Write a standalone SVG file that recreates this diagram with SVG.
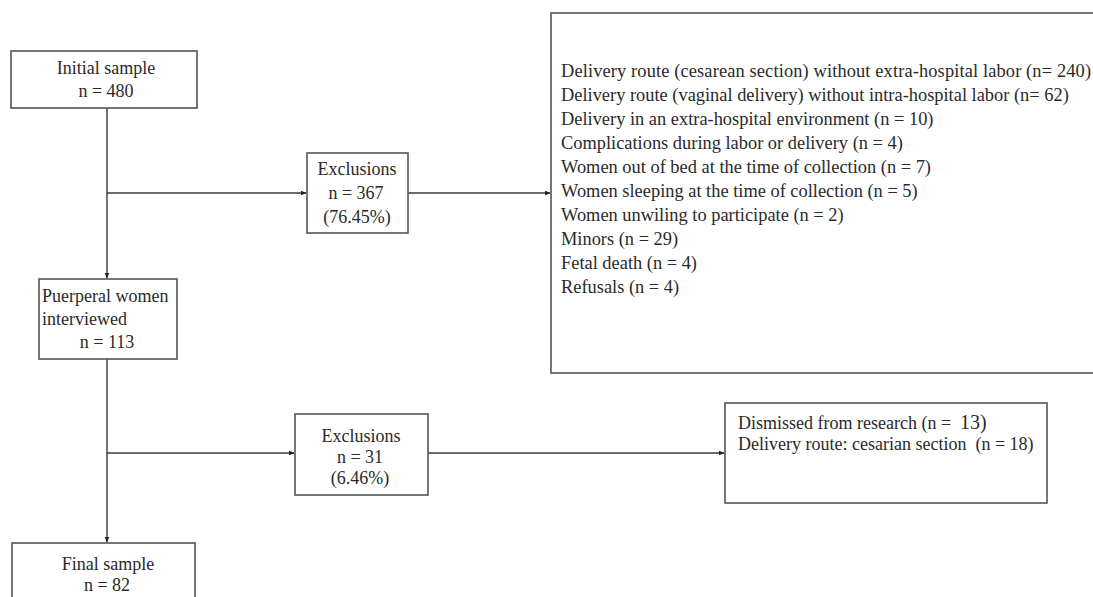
<svg xmlns="http://www.w3.org/2000/svg" width="1093" height="597" viewBox="0 0 1093 597">
<defs>
<style>
.box{fill:#fff;stroke:#555;stroke-width:1.6}
.t{font-family:"Liberation Serif","Times New Roman",serif;font-size:18px;fill:#2a2a2a}
.b{font-size:18.4px}
.c{text-anchor:middle}
.ln{fill:none;stroke:#3a3a3a;stroke-width:1.4}
</style>
<marker id="ah" viewBox="0 0 10 10" refX="9" refY="5" markerWidth="6" markerHeight="6" orient="auto" markerUnits="userSpaceOnUse">
<path d="M0,1 L10,5 L0,9 z" fill="#222"/>
</marker>
</defs>
<rect width="1093" height="597" fill="#fff"/>
<g id="connectors">
<line class="ln" x1="107" y1="108" x2="107" y2="278" marker-end="url(#ah)"/>
<line class="ln" x1="107" y1="193" x2="306" y2="193" marker-end="url(#ah)"/>
<line class="ln" x1="408" y1="193" x2="550" y2="193" marker-end="url(#ah)"/>
<line class="ln" x1="107" y1="359" x2="107" y2="542" marker-end="url(#ah)"/>
<line class="ln" x1="107" y1="453" x2="294" y2="453" marker-end="url(#ah)"/>
<line class="ln" x1="428" y1="453" x2="724" y2="453" marker-end="url(#ah)"/>
</g>
<g id="initial">
<rect class="box" x="11" y="51" width="186" height="57"/>
<text class="t c" x="106" y="74">Initial sample</text>
<text class="t c" x="106" y="97">n = 480</text>
</g>
<g id="exclusions1">
<rect class="box" x="307" y="153" width="101" height="80"/>
<text class="t c" x="357" y="175">Exclusions</text>
<text class="t c" x="356" y="199">n = 367</text>
<text class="t c" x="357" y="223">(76.45%)</text>
</g>
<g id="reasons1">
<rect class="box" x="551" y="13" width="560" height="360"/>
<text class="t b" x="561" y="77" textLength="530" lengthAdjust="spacing">Delivery route (cesarean section) without extra-hospital labor (n= 240)</text>
<text class="t b" x="561" y="101">Delivery route (vaginal delivery) without intra-hospital labor (n= 62)</text>
<text class="t b" x="561" y="125">Delivery in an extra-hospital environment (n = 10)</text>
<text class="t b" x="561" y="149">Complications during labor or delivery (n = 4)</text>
<text class="t b" x="561" y="173">Women out of bed at the time of collection (n = 7)</text>
<text class="t b" x="561" y="197">Women sleeping at the time of collection (n = 5)</text>
<text class="t b" x="561" y="221">Women unwiling to participate (n = 2)</text>
<text class="t b" x="561" y="245">Minors (n = 29)</text>
<text class="t b" x="561" y="269">Fetal death (n = 4)</text>
<text class="t b" x="561" y="293">Refusals (n = 4)</text>
</g>
<g id="puerperal">
<rect class="box" x="39" y="279" width="138" height="80"/>
<text class="t" x="42" y="302">Puerperal women</text>
<text class="t" x="42" y="325">interviewed</text>
<text class="t c" x="107" y="348">n = 113</text>
</g>
<g id="exclusions2">
<rect class="box" x="295" y="414" width="133" height="81"/>
<text class="t c" x="361" y="442">Exclusions</text>
<text class="t c" x="360" y="463">n = 31</text>
<text class="t c" x="360" y="484">(6.46%)</text>
</g>
<g id="reasons2">
<rect class="box" x="725" y="403" width="322" height="100"/>
<text class="t" x="738" y="429" xml:space="preserve">Dismissed from research (n =  <tspan font-size="20">13)</tspan></text>
<text class="t" x="738" y="450" xml:space="preserve">Delivery route: cesarian section  (n = 18)</text>
</g>
<g id="final">
<rect class="box" x="12" y="543" width="183" height="70"/>
<text class="t c" x="108" y="570">Final sample</text>
<text class="t c" x="107" y="591">n = 82</text>
</g>
</svg>
